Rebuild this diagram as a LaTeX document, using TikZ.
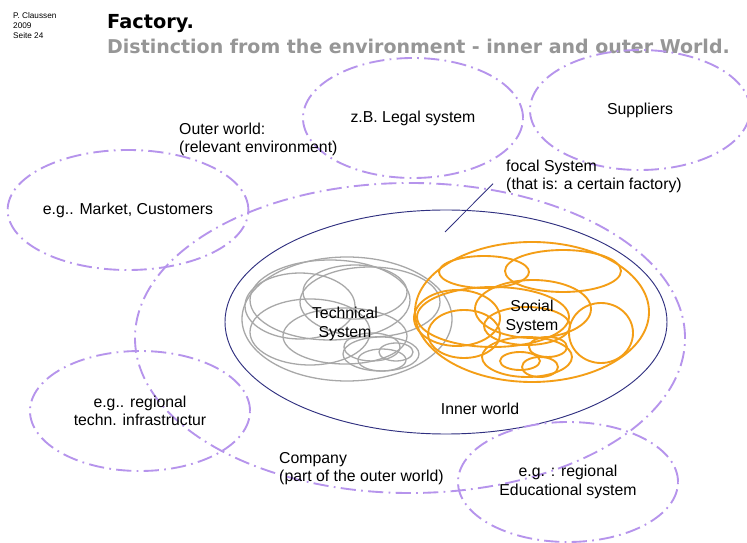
\documentclass[tikz,border=0pt]{standalone}
\usepackage{fontspec}
\setmainfont{Liberation Sans}
\newfontfamily\headfont{DejaVu Sans}
\usetikzlibrary{shapes.geometric}

\definecolor{envlilac}{RGB}{182,148,236}
\definecolor{focalnavy}{RGB}{48,48,128}
\definecolor{techgray}{RGB}{168,168,168}
\definecolor{socialorange}{RGB}{244,158,22}
\definecolor{subgray}{RGB}{150,150,150}

\tikzset{
  env/.style={ellipse, draw=envlilac, line width=1.6pt,
    dash pattern=on 13pt off 4.5pt on 1.5pt off 4.5pt,
    inner sep=0pt, align=center, minimum width=6.6cm, minimum height=3.6cm},
  txt/.style={inner sep=0pt, align=left, anchor=base west},
  techring/.style={draw=techgray, line width=1.1pt},
  socialring/.style={draw=socialorange, line width=1.6pt},
  pointer/.style={draw=focalnavy, line width=0.7pt},
}

\begin{document}
\begin{tikzpicture}[x=0.03cm, y=-0.03cm, font=\fontsize{13.5}{15.7}\selectfont]

    \path[fill=white, use as bounding box] (0,0) rectangle (747,543);

    % Header
    \node[inner sep=0pt, anchor=north west, align=left,
          font=\fontsize{7}{8.5}\selectfont]              (author) at (13,12) {P. Claussen\\2009\\Seite 24};
    \node[txt, font=\headfont\bfseries\fontsize{16.5}{18}\selectfont]          (title) at (107,29) {Factory.};
    \node[txt, text=subgray, font=\headfont\bfseries\fontsize{16.2}{18}\selectfont] (subtitle) at (107,54)
        {Distinction from the environment - inner and outer World.};

    % Company and inner world
    \node[env, minimum width=16.5cm, minimum height=9.3cm] (company) at (410,338) {};
    \node[ellipse, draw=focalnavy, line width=0.8pt,
          minimum width=13.26cm, minimum height=6.72cm]   (inner) at (446,322) {};

    % Outer world
    \node[env] (legal)     at (413,118) {z.B. Legal system};
    \node[env] (suppliers) at (640,110) {Suppliers};
    \node[env] (market)    at (128,210) {e.g.. Market, Customers};
    \node[env] (infra)     at (140,411) {e.g.. regional\\techn. infrastructur};
    \node[env] (education) at (568,482) {e.g. : regional\\Educational system};

    % Technical system
    \foreach \cx/\cy/\rx/\ry in {347/319/105/62, 300/306/55/33, 355/292/52/27,
        370/302/70/35, 310/332/60/33, 345/336/62/28, 381/354/38/17,
        372/347/28/14, 382/360/24/11, 396/352/17/9, 330/300/80/40}
        \draw[techring] (\cx,\cy) ellipse [x radius=\rx, y radius=\ry];

    % Social system
    \foreach \cx/\cy/\rx/\ry in {532/312/117/70, 484/272/45/16, 563/271/58/21,
        533/309/58/29, 493/317/76/30, 457/318/43/28, 464/334/36/24,
        601/333/32/30, 527/326/43/19, 527/357/45/20, 548/347/19/10,
        520/361/20/9, 540/367/18/10}
        \draw[socialring] (\cx,\cy) ellipse [x radius=\rx, y radius=\ry];

    % Labels
    \node[inner sep=0pt, align=center] (technical) at (345,324) {Technical\\System};
    \node[inner sep=0pt, align=center] (social)    at (532,317) {Social\\System};
    \node[txt, anchor=base]            (innerlbl)  at (480,415) {Inner world};
    \node[txt] (outer)   at (179,153) {Outer world:\\(relevant environment)};
    \node[txt] (focal)   at (506,190) {focal System\\(that is: a certain factory)};
    \node[txt] (firm)    at (279,482) {Company\\(part of the outer world)};

    \coordinate (focaltip) at (445,232);
    \draw[pointer] ([shift={(-13,7)}]focal.west) -- (focaltip);

\end{tikzpicture}
\end{document}
